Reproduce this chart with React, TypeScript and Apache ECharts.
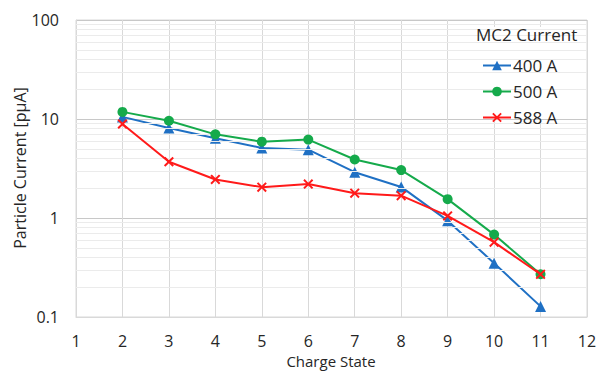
import React, { useEffect, useRef } from "react";
import * as echarts from "echarts";

const chargeStates = [2, 3, 4, 5, 6, 7, 8, 9, 10, 11];
const current400 = [10.5, 8.1, 6.4, 5.1, 4.9, 2.9, 2.06, 0.94, 0.35, 0.128];
const current500 = [11.8, 9.6, 7.0, 5.9, 6.2, 3.9, 3.05, 1.55, 0.68, 0.27];
const current588 = [8.9, 3.7, 2.45, 2.05, 2.2, 1.78, 1.68, 1.05, 0.57, 0.27];
const seriesNames = ["400 A", "500 A", "588 A"];
const minorGridValues = [
  0.2, 0.3, 0.4, 0.5, 0.6, 0.7, 0.8, 0.9,
  2, 3, 4, 5, 6, 7, 8, 9,
  20, 30, 40, 50, 60, 70, 80, 90,
];
const xTitle = "Charge State";
const yTitle = "Particle Current [pμA]";
const legendTitle = "MC2 Current";

const FONT = "Open Sans";
const TEXT = "#262626";

export default function App() {
  const ref = useRef<HTMLDivElement>(null);
  useEffect(() => {
    document.body.style.margin = "0";
    if (!ref.current) return;
    const chart = echarts.init(ref.current, null, { renderer: "svg" });
    const pair = (vals: number[]) => chargeStates.map((c, i) => [c, vals[i]]);
    const xSymbol =
      "path://M0,1.4 L1.4,0 L5,3.6 L8.6,0 L10,1.4 L6.4,5 L10,8.6 L8.6,10 L5,6.4 L1.4,10 L0,8.6 L3.6,5 Z";
    chart.setOption({
      animation: false,
      textStyle: { fontFamily: FONT },
      grid: {
        left: 76,
        right: 11,
        top: 20,
        bottom: 55,
        show: true,
        borderColor: "#d9d9d9",
        borderWidth: 1,
        outerBoundsMode: "none",
        containLabel: false,
      },
      legend: {
        orient: "vertical",
        left: 482,
        top: 57,
        padding: 0,
        z: 10,
        itemWidth: 28,
        itemHeight: 12,
        itemGap: 9,
        data: seriesNames,
        textStyle: { fontFamily: FONT, fontSize: 17, color: TEXT, padding: [0, 0, 0, -3] },
      },
      graphic: [
        {
          type: "rect",
          z: 3,
          silent: true,
          shape: { x: 473, y: 27, width: 107, height: 91 },
          style: { fill: "#ffffff" },
        },
        {
          type: "text",
          z: 11,
          left: 476,
          top: 26,
          style: { text: legendTitle, font: `17px "${FONT}"`, fill: TEXT },
        },
        {
          type: "text",
          z: 11,
          x: 20,
          y: 168,
          rotation: Math.PI / 2,
          style: {
            text: yTitle,
            font: `16px "${FONT}"`,
            fill: TEXT,
            align: "center",
            verticalAlign: "middle",
          },
        },
        {
          type: "text",
          z: 11,
          x: 331,
          y: 361,
          style: {
            text: xTitle,
            font: `15px "${FONT}"`,
            lineHeight: 15,
            fill: TEXT,
            align: "center",
            verticalAlign: "middle",
          },
        },
      ],
      xAxis: {
        type: "value",
        min: 1,
        max: 12,
        interval: 1,
        axisLine: { onZero: false, lineStyle: { color: "#d9d9d9" } },
        axisTick: { show: false },
        axisLabel: { fontFamily: FONT, fontSize: 16, color: TEXT, margin: 16 },
        splitLine: { show: true, lineStyle: { color: "#d9d9d9", width: 1 } },
      },
      yAxis: {
        type: "log",
        logBase: 10,
        min: 0.1,
        max: 100,
        axisLine: { show: true, lineStyle: { color: "#d9d9d9" } },
        axisTick: { show: false },
        axisLabel: { fontFamily: FONT, fontSize: 16, color: TEXT, margin: 17 },
        splitLine: { show: true, lineStyle: { color: "#c8c8c8", width: 1 } },
      },
      series: [
        {
          type: "line",
          name: "grid",
          data: [],
          z: 1,
          silent: true,
          markLine: {
            silent: true,
            symbol: "none",
            label: { show: false },
            lineStyle: { color: "#ebebeb", type: "solid", width: 1 },
            data: minorGridValues.map((v) => ({ yAxis: v })),
          },
        },
        {
          type: "line",
          name: seriesNames[0],
          data: pair(current400),
          symbol: "triangle",
          symbolSize: 11,
          color: "#1f70c4",
          lineStyle: { width: 2 },
          z: 4,
        },
        {
          type: "line",
          name: seriesNames[1],
          data: pair(current500),
          symbol: "circle",
          symbolSize: 10,
          color: "#15aa4b",
          lineStyle: { width: 2 },
          z: 5,
        },
        {
          type: "line",
          name: seriesNames[2],
          data: pair(current588),
          symbol: xSymbol,
          symbolSize: 10,
          color: "#ff1a1a",
          lineStyle: { width: 2 },
          z: 6,
        },
      ],
    });
    return () => chart.dispose();
  }, []);
  return <div ref={ref} style={{ width: 598, height: 372 }} />;
}
